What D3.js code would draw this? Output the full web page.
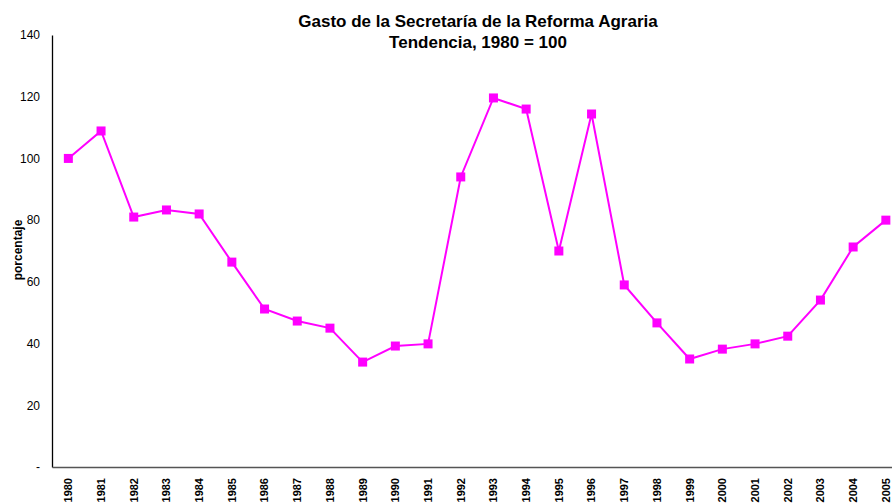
<!DOCTYPE html>
<html>
<head>
<meta charset="utf-8">
<script src="https://cdn.jsdelivr.net/npm/d3@7"></script>
<style>
  body { margin: 0; background: #fff; }
  svg { font-family: "Liberation Sans", Arial, sans-serif; }
</style>
</head>
<body>
<div id="grafica"></div>
<script>
// datos
var anios = ['1980','1981','1982','1983','1984','1985','1986','1987','1988','1989',
             '1990','1991','1992','1993','1994','1995','1996','1997','1998','1999',
             '2000','2001','2002','2003','2004','2005']
var gasto = [100, 108.9, 81, 83.3, 82, 66.4, 51.2, 47.3, 45, 34,
             39.2, 39.9, 94, 119.6, 116, 70, 114.4, 59, 46.7, 35,
             38.2, 39.9, 42.4, 54.1, 71.3, 80]
var ticksY = [0, 20, 40, 60, 80, 100, 120, 140]
var titulo = ['Gasto de la Secretaría de la Reforma Agraria', 'Tendencia, 1980 = 100']

var width = 892, height = 503
var margin = { top: 35, left: 52, bottom: 36 }

var svg = d3.select('#grafica')
    .append('svg')
    .attr('width', width)
    .attr('height', height)

var x = d3.scaleBand()
    .domain(anios)
    .range([margin.left, margin.left + 26 * 32.7])

var y = d3.scaleLinear()
    .domain([0, 140])
    .range([height - margin.bottom, margin.top])

// eje y
var ejeY = svg.append('g')
    .attr('transform', 'translate(' + margin.left + ',0)')
    .call(d3.axisLeft(y).tickValues(ticksY).tickSize(0).tickPadding(12)
        .tickFormat(function (d) { return d == 0 ? '-' : d }))
ejeY.select('.domain').attr('stroke', '#000').attr('stroke-width', 1.3)
ejeY.selectAll('text').attr('font-size', 12).attr('fill', '#000')
    .attr('font-family', '"Liberation Sans", Arial, sans-serif')

// eje x
var ejeX = svg.append('g')
    .attr('transform', 'translate(0,' + y(0) + ')')
    .call(d3.axisBottom(x).tickSize(0).tickPadding(0))
ejeX.select('.domain').attr('stroke', '#555').attr('stroke-width', 1.5)
ejeX.selectAll('text')
    .attr('font-size', 11)
    .attr('font-weight', 'bold')
    .attr('fill', '#000')
    .attr('font-family', '"Liberation Sans", Arial, sans-serif')
    .attr('transform', 'rotate(-90)')
    .attr('x', -11)
    .attr('y', 0)
    .attr('dy', '0.35em')
    .attr('text-anchor', 'end')

// titulo
svg.selectAll('text.titulo')
    .data(titulo)
    .enter()
    .append('text')
    .attr('class', 'titulo')
    .attr('x', 478)
    .attr('y', function (d, i) { return 27 + i * 21 })
    .attr('text-anchor', 'middle')
    .attr('font-size', 17)
    .attr('font-weight', 'bold')
    .text(function (d) { return d })

svg.append('text')
    .attr('transform', 'translate(22,250) rotate(-90)')
    .attr('text-anchor', 'middle')
    .attr('font-size', 12)
    .attr('font-weight', 'bold')
    .text('porcentaje')

var linea = d3.line()
    .x(function (d, i) { return x(anios[i]) + x.bandwidth() / 2 })
    .y(function (d) { return y(d) })

svg.append('path')
    .datum(gasto)
    .attr('d', linea)
    .attr('fill', 'none')
    .attr('stroke', '#FF00FF')
    .attr('stroke-width', 2)

svg.selectAll('rect.punto')
    .data(gasto)
    .enter()
    .append('rect')
    .attr('class', 'punto')
    .attr('x', function (d, i) { return x(anios[i]) + x.bandwidth() / 2 - 4.5 })
    .attr('y', function (d) { return y(d) - 4.5 })
    .attr('width', 9)
    .attr('height', 9)
    .attr('fill', '#FF00FF')
</script>
</body>
</html>
